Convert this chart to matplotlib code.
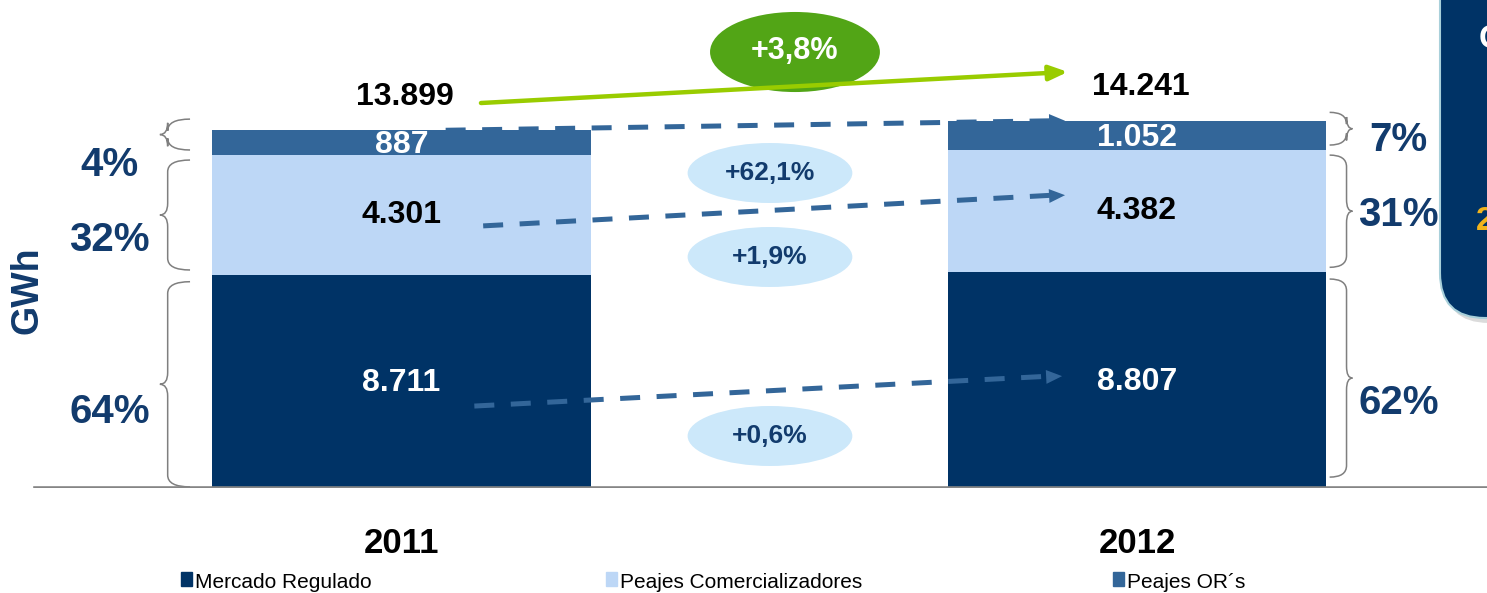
import matplotlib.pyplot as plt
from matplotlib.patches import Ellipse, FancyBboxPatch, PathPatch, Rectangle
from matplotlib.path import Path

# datos (GWh)
years = ['2011', '2012']
mercado = [8711, 8807]
comercializadores = [4301, 4382]
ors = [887, 1052]
totals = [13899, 14241]
share_2011 = ['64%', '32%', '4%']
share_2012 = ['62%', '31%', '7%']
growth = ['+0,6%', '+1,9%', '+62,1%']
growth_total = '+3,8%'
legend_labels = ['Mercado Regulado', 'Peajes Comercializadores', 'Peajes OR´s']

c_dark, c_light, c_or = '#003366', '#BDD7F6', '#336699'
c_txt = '#123B6D'
FONT = ['Liberation Sans', 'DejaVu Sans']
Y0 = 1077  # el eje no empieza en cero


def fmt(v):
    return f'{v:,}'.replace(',', '.')


def brace(ax, x_arm, x_body, y0, y1, r=420):
    # llave "{" o "}" segun el orden de x_arm / x_body
    ym = (y0 + y1) / 2
    xt = x_body - (x_arm - x_body) * 0.35
    verts = [(x_arm, y1), (x_body, y1), (x_body, y1 - r),
             (x_body, ym + r), (x_body, ym), (xt, ym),
             (x_body, ym), (x_body, ym - r),
             (x_body, y0 + r), (x_body, y0), (x_arm, y0)]
    codes = [Path.MOVETO, Path.CURVE3, Path.CURVE3,
             Path.LINETO, Path.CURVE3, Path.CURVE3,
             Path.CURVE3, Path.CURVE3,
             Path.LINETO, Path.CURVE3, Path.CURVE3]
    ax.add_patch(PathPatch(Path(verts, codes), fc='none', ec='#7F7F7F', lw=1.1, zorder=2))


fig = plt.figure(figsize=(14.87, 5.93), dpi=100)
ax = fig.add_axes([0, 105 / 593, 1, 488 / 593])
ax.set_xlim(-0.546, 1.476)
ax.set_ylim(Y0, 18568)
ax.axis('off')

x = [0, 1]
w = 0.515
bot2 = [a + b for a, b in zip(mercado, comercializadores)]
ax.bar(x, [m - Y0 for m in mercado], w, bottom=Y0, color=c_dark, zorder=3)
ax.bar(x, comercializadores, w, bottom=mercado, color=c_light, zorder=3)
ax.bar(x, ors, w, bottom=bot2, color=c_or, zorder=3)
ax.axhline(Y0, xmin=35 / 1487, xmax=1, color='#858585', lw=2.6, zorder=4)

# etiquetas de valores
for i in range(2):
    ax.text(x[i], (Y0 + mercado[i]) / 2 - 60, fmt(mercado[i]), color='white', ha='center', va='center',
            fontsize=23, fontweight='bold', family=FONT, zorder=6)
    ax.text(x[i], mercado[i] + comercializadores[i] / 2, fmt(comercializadores[i]), color='black',
            ha='center', va='center', fontsize=23, fontweight='bold', family=FONT, zorder=6)
    ax.text(x[i], bot2[i] + ors[i] / 2 - 80, fmt(ors[i]), color='white', ha='center', va='center',
            fontsize=23, fontweight='bold', family=FONT, zorder=6)
    ax.annotate(fmt(totals[i]), (x[i] + 0.005, totals[i]), xytext=(0, 24), textcoords='offset points',
                ha='center', va='center', fontsize=23, fontweight='bold', family=FONT)
    ax.annotate(years[i], (x[i], Y0), xytext=(0, -40), textcoords='offset points', ha='center',
                va='center', fontsize=25, fontweight='bold', family=FONT)

# porcentajes y llaves
segs = [[(Y0, mercado[i]), (mercado[i], bot2[i]), (bot2[i], totals[i])] for i in range(2)]
left_off = [-1090, -895, -800]
right_off = [-820, -135, -165]
for k in range(3):
    ax.text(-0.397, sum(segs[0][k]) / 2 + left_off[k], share_2011[k], color=c_txt, ha='center',
            va='center', fontsize=29, fontweight='bold', family=FONT)
    ax.text(1.356, sum(segs[1][k]) / 2 + right_off[k], share_2012[k], color=c_txt, ha='center',
            va='center', fontsize=29, fontweight='bold', family=FONT)
gap = [(40, 240), (180, 180), (180, -400)]
for k in range(3):
    a, b = segs[0][k]
    brace(ax, -0.2876, -0.318, a + gap[k][0], b - gap[k][1])
    a, b = segs[1][k]
    brace(ax, 1.262, 1.285, a + gap[k][0] + 350 * (k == 0), b - gap[k][1] - 100 * (k == 2))
ax.text(-0.508, 8174, 'GWh', rotation=90, color=c_txt, ha='center', va='center', fontsize=27,
        fontweight='bold', family=FONT)

# flechas de variacion (la de OR queda detras de las barras)
lines = [((0.06, totals[0]), (0.906, totals[1])),
         ((0.111, mercado[0] + comercializadores[0] / 2 - 390), (0.906, bot2[1] - comercializadores[1] / 2 + 580)),
         ((0.099, (Y0 + mercado[0]) / 2 - 880), (0.902, (Y0 + mercado[1]) / 2 + 150))]
for n, (p0, p1) in enumerate(lines):
    z = 2 if n == 0 else 5
    ax.plot([p0[0], p1[0] - 0.016], [p0[1], p1[1]], color=c_or, lw=3.6, ls=(0, (4, 3.3)),
            zorder=z, solid_capstyle='butt')
    ax.annotate('', xy=p1, xytext=(p1[0] - 0.03, p1[1] - (p1[1] - p0[1]) * 0.03 / (p1[0] - p0[0])),
                arrowprops=dict(arrowstyle='-|>,head_length=1.15,head_width=0.5', color=c_or, lw=0),
                zorder=z)

for k, yc in enumerate([2941, 9357, 12367]):
    ax.add_patch(Ellipse((0.501, yc), 0.224, 2150, fc='#CCE8FA', ec='none', zorder=3))
    ax.text(0.501, yc, growth[k], color=c_txt, ha='center', va='center', fontsize=19,
            fontweight='bold', family=FONT, zorder=4)

ax.add_patch(Ellipse((0.535, 16704), 0.231, 2870, fc='#52A516', ec='none', zorder=3))
ax.text(0.535, 16750, growth_total, color='white', ha='center', va='center', fontsize=22,
        fontweight='bold', family=FONT, zorder=5)
ax.annotate('', xy=(0.906, 15990), xytext=(0.108, 14876),
            arrowprops=dict(arrowstyle='-|>,head_length=1.1,head_width=0.45', color='#99CC00', lw=3.2,
                            shrinkA=0, shrinkB=0), zorder=4)

# decoracion: panel derecho y leyenda
deco = fig.add_axes([0, 0, 1, 1], zorder=-1)
deco.set_xlim(0, 1487)
deco.set_ylim(593, 0)
deco.axis('off')
deco.add_patch(FancyBboxPatch((1444, -80), 120, 403, boxstyle='round,pad=0,rounding_size=45',
                              fc='#B0B0B0', ec='none', alpha=0.45))
deco.add_patch(FancyBboxPatch((1440, -80), 120, 398, boxstyle='round,pad=0,rounding_size=45',
                              fc='#003366', ec='#A8D0DA', lw=1.5))
deco.text(1479, 40, 'C', color='white', fontsize=24, fontweight='bold', va='center', family=FONT)
deco.text(1476, 222, '2', color='#F2B41C', fontsize=24, fontweight='bold', va='center', family=FONT)

leg = fig.add_axes([0, 0, 1, 1])
leg.set_xlim(0, 1487)
leg.set_ylim(593, 0)
leg.axis('off')
for lx, lab, col in zip([181, 606, 1113], legend_labels, [c_dark, c_light, c_or]):
    leg.add_patch(Rectangle((lx, 572), 11, 14, color=col))
    leg.text(lx + 14, 582, lab, fontsize=15, va='center', family=FONT)

fig.savefig('out.png', dpi=100)
